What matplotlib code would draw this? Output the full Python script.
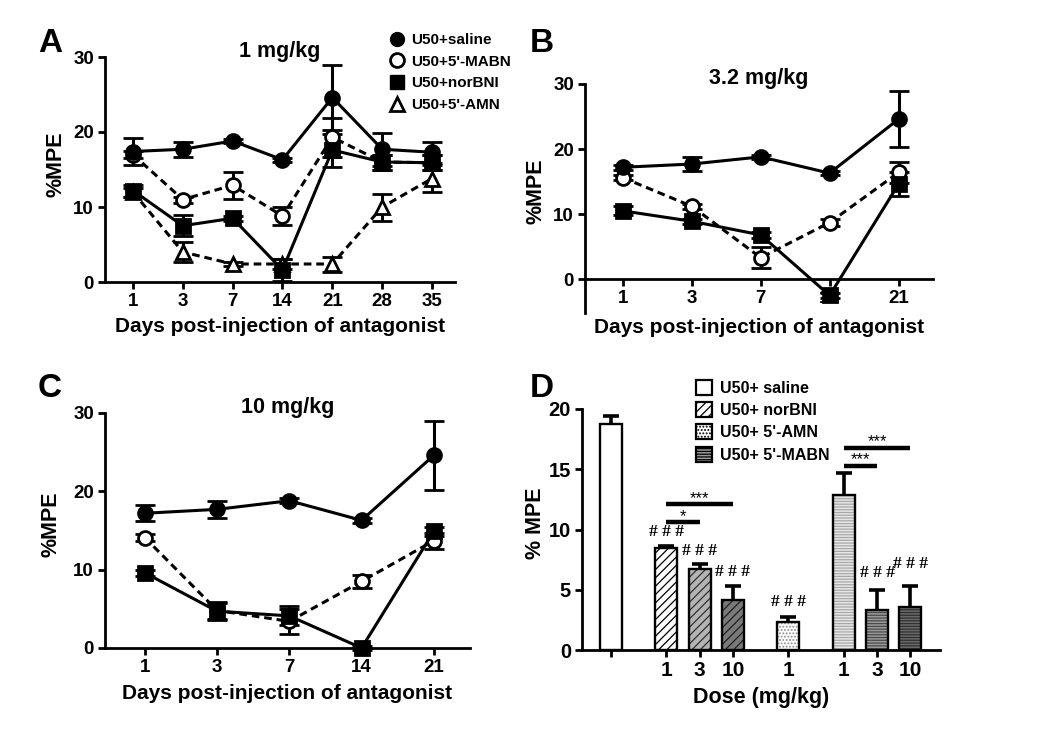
import matplotlib
matplotlib.use('Agg')
import matplotlib.pyplot as plt
from matplotlib.lines import Line2D
from matplotlib.patches import Patch

plt.rcParams['font.family'] = ['Liberation Sans', 'DejaVu Sans']
plt.rcParams['font.weight'] = 'bold'
plt.rcParams['axes.labelweight'] = 'bold'
plt.rcParams['axes.linewidth'] = 2.0
plt.rcParams['hatch.linewidth'] = 0.9

# ---- data: panel A (1 mg/kg) ----
days_a = ['1', '3', '7', '14', '21', '28', '35']
a_saline = [17.4, 17.7, 18.8, 16.3, 24.6, 17.7, 17.3]
a_saline_err = [1.8, 1.0, 0.3, 0.3, 4.3, 2.2, 1.4]
a_mabn = [17.0, 11.0, 12.9, 8.8, 19.3, 16.0, 15.9]
a_mabn_err = [0.5, 0.4, 1.8, 1.2, 2.6, 1.0, 1.0]
a_norbni = [12.2, 7.5, 8.5, 1.6, 17.6, 16.0, 15.9]
a_norbni_err = [0.8, 1.4, 0.3, 1.5, 2.2, 1.0, 1.0]
a_amn = [12.0, 4.0, 2.4, 2.4, 2.4, 10.0, 13.8]
a_amn_err = [0.6, 1.3, 0.3, 0.7, 1.0, 1.8, 1.8]

# ---- data: panel B (3.2 mg/kg) ----
days_b = ['1', '3', '7', '14', '21']
b_saline = [17.2, 17.7, 18.8, 16.3, 24.6]
b_saline_err = [0.4, 1.1, 0.3, 0.3, 4.3]
b_mabn = [15.6, 11.2, 3.3, 8.7, 16.4]
b_mabn_err = [0.4, 0.4, 1.6, 0.5, 1.6]
b_norbni = [10.5, 8.9, 6.8, -2.5, 14.6]
b_norbni_err = [0.7, 0.4, 0.4, 0.4, 1.8]

# ---- data: panel C (10 mg/kg) ----
days_c = ['1', '3', '7', '14', '21']
c_saline = [17.2, 17.7, 18.8, 16.3, 24.6]
c_saline_err = [1.0, 1.1, 0.3, 0.3, 4.4]
c_mabn = [14.1, 4.8, 3.4, 8.5, 13.7]
c_mabn_err = [0.4, 1.1, 1.6, 0.8, 1.0]
c_norbni = [9.6, 4.7, 4.1, 0.0, 14.9]
c_norbni_err = [0.4, 1.1, 1.2, 0.3, 0.6]

# ---- data: panel D (bars) ----
d_groups = ['U50+ saline', 'U50+ norBNI', 'U50+ 5\'-AMN', 'U50+ 5\'-MABN']
d_doses = [[''], ['1', '3', '10'], ['1'], ['1', '3', '10']]
d_values = [[18.75], [8.5, 6.75, 4.15], [2.35], [12.9, 3.35, 3.6]]
d_errors = [[0.7], [0.15, 0.4, 1.2], [0.4], [1.75, 1.65, 1.75]]
# gap between error bar top and "###" mark (None = no mark)
d_hash = [[None], [0.45, 0.4, 0.45], [0.6], [None, 0.7, 1.1]]
# significance: (group, bar i, bar j, y level, label)
d_sig = [(1, 0, 1, 10.6, '*'), (1, 0, 2, 12.1, '***'),
         (3, 0, 1, 15.3, '***'), (3, 0, 2, 16.8, '***')]

# bar styles
d_face = [['white'], ['white', '#b4b4b4', '#7a7a7a'], ['white'],
          ['#e6e6e6', '#9a9a9a', '#6a6a6a']]
d_hcol = [['white'], ['black', '#303030', '#202020'], ['#8c8c8c'],
          ['#a8a8a8', '#4a4a4a', '#303030']]
d_hatch = [None, '////', '.....', '------']

fig = plt.figure(figsize=(10.5, 7.39), dpi=100)
W, H = 1050.0, 739.0


def box(left, top, right, bottom):
    return [left / W, 1 - bottom / H, (right - left) / W, (bottom - top) / H]


def style(ax, fs=13.5):
    for s in ['top', 'right']:
        ax.spines[s].set_visible(False)
    ax.tick_params(width=2.0, length=5, labelsize=fs, pad=3)


def series(ax, y, err, marker, face, dashed):
    x = list(range(len(y)))
    line, caps, bars = ax.errorbar(x, y, yerr=err, color='black', lw=2.2,
                                   marker=marker, ms=10, mfc=face, mec='black',
                                   mew=2.0, capsize=7.5, capthick=2.2,
                                   elinewidth=2.2, zorder=3)
    if dashed:
        line.set_dashes((2.5, 1.6))
    line.set_clip_on(False)
    for c in caps:
        c.set_clip_on(False)
    for b in bars:
        b.set_clip_on(False)


def line_panel(ax, days, title, ylim):
    ax.set_xticks(range(len(days)))
    ax.set_xticklabels(days)
    ax.set_xlim(-0.55, len(days) - 0.5)
    ax.set_ylim(*ylim)
    ax.set_yticks([0, 10, 20, 30])
    ax.set_ylabel('%MPE', fontsize=15.5)
    ax.set_xlabel('Days post-injection of antagonist', fontsize=15)
    ax.text(0.5, 1.0, title, transform=ax.transAxes, ha='center',
            va='baseline', fontsize=15.5)
    style(ax)


# ---- panel A ----
ax_a = fig.add_axes(box(105, 57, 455, 282))
series(ax_a, a_amn, a_amn_err, '^', 'white', True)
series(ax_a, a_mabn, a_mabn_err, 'o', 'white', True)
series(ax_a, a_norbni, a_norbni_err, 's', 'black', False)
series(ax_a, a_saline, a_saline_err, 'o', 'black', False)
line_panel(ax_a, days_a, '1 mg/kg', (0, 30))
ax_a.set_xlim(-0.56, 6.46)
ax_a.xaxis.set_label_coords(0.5, -0.155)
ax_a.yaxis.set_label_coords(-0.11, 0.522)
handles_a = [Line2D([], [], ls='none', marker='o', ms=10, mfc='black', mec='black'),
             Line2D([], [], ls='none', marker='o', ms=10, mfc='white', mec='black', mew=2.0),
             Line2D([], [], ls='none', marker='s', ms=10, mfc='black', mec='black'),
             Line2D([], [], ls='none', marker='^', ms=10, mfc='white', mec='black', mew=2.0)]
labels_a = ['U50+saline', 'U50+5\'-MABN', 'U50+norBNI', 'U50+5\'-AMN']
fig.legend(handles_a, labels_a, loc='upper left', bbox_to_anchor=(389 / W, 1 - 33 / H),
           frameon=False, fontsize=11, handlelength=1.0, handletextpad=0.45,
           labelspacing=0.5, borderpad=0, borderaxespad=0)

# ---- panel B ----
ax_b = fig.add_axes(box(585, 84, 933, 313))
series(ax_b, b_mabn, b_mabn_err, 'o', 'white', True)
series(ax_b, b_norbni, b_norbni_err, 's', 'black', False)
series(ax_b, b_saline, b_saline_err, 'o', 'black', False)
line_panel(ax_b, days_b, '3.2 mg/kg', (-5.2, 30))
ax_b.spines['bottom'].set_position(('data', 0))
ax_b.xaxis.set_label_coords(0.5, -0.02)
ax_b.yaxis.set_label_coords(-0.112, 0.53)

# ---- panel C ----
ax_c = fig.add_axes(box(105, 413, 470, 648))
series(ax_c, c_mabn, c_mabn_err, 'o', 'white', True)
series(ax_c, c_norbni, c_norbni_err, 's', 'black', False)
series(ax_c, c_saline, c_saline_err, 'o', 'black', False)
line_panel(ax_c, days_c, '10 mg/kg', (0, 30))
ax_c.xaxis.set_label_coords(0.5, -0.155)
ax_c.yaxis.set_label_coords(-0.118, 0.525)

# ---- panel D ----
ax_d = fig.add_axes(box(582, 409, 940, 650))
gap = 0.67
pos = 0.0
xs, labels = [], []
for g in range(len(d_groups)):
    gx = []
    for k in range(len(d_values[g])):
        gx.append(pos)
        pos += 1
    xs.append(gx)
    labels += d_doses[g]
    pos += gap

for g in range(len(d_groups)):
    ax_d.errorbar(xs[g], d_values[g], yerr=d_errors[g], fmt='none', ecolor='black',
                  elinewidth=2.6, capsize=5.5, capthick=2.6, zorder=1)
    for k, (x, v) in enumerate(zip(xs[g], d_values[g])):
        ax_d.bar(x, v, width=0.66, color=d_face[g][k], edgecolor=d_hcol[g][k],
                 hatch=d_hatch[g], linewidth=0, zorder=2)
        ax_d.bar(x, v, width=0.66, fill=False, edgecolor='black', linewidth=1.7, zorder=2.2)
        if d_hash[g][k] is not None:
            ax_d.text(x, v + d_errors[g][k] + d_hash[g][k], '# # #', ha='center', va='bottom',
                      fontsize=12.5, fontfamily=['Liberation Serif', 'DejaVu Serif'])

for g, i, j, y, lab in d_sig:
    x0, x1 = xs[g][i], xs[g][j]
    ax_d.plot([x0, x1], [y, y], color='black', lw=3.2, solid_capstyle='butt', zorder=3)
    ax_d.annotate(lab, ((x0 + x1) / 2, y), xytext=(0, 1), textcoords='offset points',
                  ha='center', va='baseline', fontsize=12, fontweight='normal')

all_x = [x for gx in xs for x in gx]
ax_d.set_xticks(all_x)
ax_d.set_xticklabels(labels)
ax_d.set_xlim(-0.87, 9.9)
ax_d.set_ylim(0, 20)
ax_d.set_yticks([0, 5, 10, 15, 20])
style(ax_d)
ax_d.tick_params(axis='x', labelsize=15)
ax_d.tick_params(axis='y', labelsize=14.5)
ax_d.set_ylabel('% MPE', fontsize=15.5)
ax_d.set_xlabel('Dose (mg/kg)', fontsize=15.5)
ax_d.xaxis.set_label_coords(0.5, -0.155)
ax_d.yaxis.set_label_coords(-0.1, 0.527)

handles_d = []
for g in range(len(d_groups)):
    handles_d.append(Patch(facecolor=d_face[g][0] if g != 3 else d_face[g][1],
                           edgecolor='black', hatch=d_hatch[g], linewidth=1.6))
fig.legend(handles_d, d_groups, loc='upper left', bbox_to_anchor=(696 / W, 1 - 380 / H),
           frameon=False, fontsize=11.5, handlelength=1.0, handleheight=1.05,
           handletextpad=0.5, labelspacing=0.4, borderpad=0, borderaxespad=0)

# panel letters
for lab, x, y in [('A', 38, 52), ('B', 530, 52), ('C', 38, 397), ('D', 530, 397)]:
    fig.text(x / W, 1 - y / H, lab, fontsize=24, fontweight='bold', va='baseline')

fig.savefig('out.png', dpi=100)
